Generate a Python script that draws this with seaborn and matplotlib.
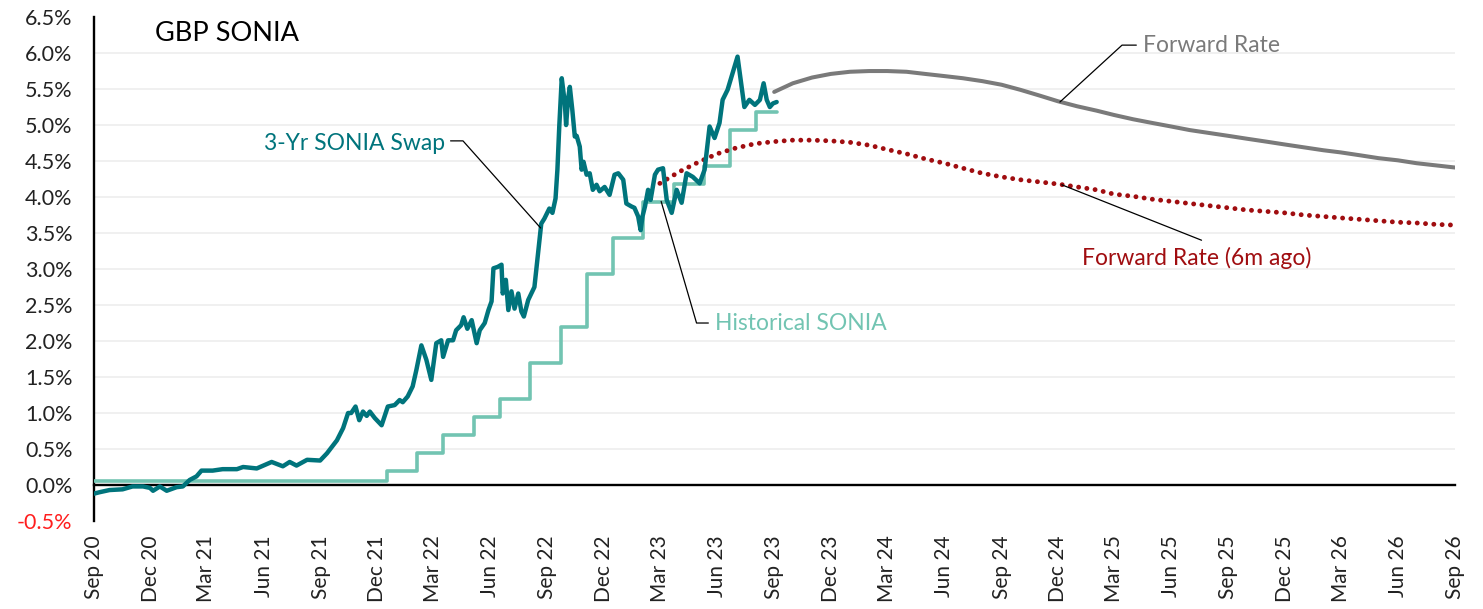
import numpy as np
import pandas as pd
import matplotlib
matplotlib.use("Agg")
import matplotlib.pyplot as plt
import matplotlib.dates as mdates
import seaborn as sns

# ---------------- data ----------------
swap_dates = [
    # Sep 2020 - Sep 2021
    "2020-09-01", "2020-09-10", "2020-09-26", "2020-10-17", "2020-11-02", "2020-11-19",
    "2020-11-30", "2020-12-05", "2020-12-16", "2020-12-27", "2021-01-12", "2021-01-22",
    "2021-02-02", "2021-02-13", "2021-02-21", "2021-03-11", "2021-03-27", "2021-04-19",
    "2021-04-29", "2021-05-21", "2021-06-14", "2021-07-02", "2021-07-13", "2021-07-24",
    "2021-08-10", "2021-08-31", "2021-09-11",
    # Sep 2021 - Aug 2022
    "2021-09-27", "2021-10-07", "2021-10-15", "2021-10-20", "2021-10-27", "2021-11-02",
    "2021-11-08", "2021-11-14", "2021-11-19", "2021-11-27", "2021-12-08", "2021-12-18",
    "2021-12-29", "2022-01-06", "2022-01-11", "2022-01-19", "2022-01-27", "2022-02-02",
    "2022-02-10", "2022-02-18", "2022-02-26", "2022-03-06", "2022-03-14", "2022-03-17",
    "2022-03-25", "2022-04-02", "2022-04-07", "2022-04-15", "2022-04-19", "2022-04-25",
    "2022-05-02", "2022-05-10", "2022-05-15", "2022-05-23", "2022-05-29", "2022-06-03",
    "2022-06-06", "2022-06-13", "2022-06-19", "2022-06-21", "2022-06-26", "2022-06-30",
    "2022-07-05", "2022-07-10", "2022-07-16", "2022-07-21", "2022-07-25", "2022-08-01",
    "2022-08-06", "2022-08-11", "2022-08-14", "2022-08-19",
    # Aug 2022 - Mar 2023
    "2022-08-22", "2022-08-27", "2022-09-04", "2022-09-09", "2022-09-14", "2022-09-17",
    "2022-09-20", "2022-09-24", "2022-09-29", "2022-10-01", "2022-10-04", "2022-10-07",
    "2022-10-11", "2022-10-15", "2022-10-18", "2022-10-23", "2022-10-26", "2022-10-29",
    "2022-11-03", "2022-11-08", "2022-11-13", "2022-11-19", "2022-11-24", "2022-12-02",
    "2022-12-10", "2022-12-18", "2022-12-24", "2023-01-01", "2023-01-06", "2023-01-14",
    "2023-01-19", "2023-01-25", "2023-01-29", "2023-02-01", "2023-02-05", "2023-02-10",
    "2023-02-14", "2023-02-21", "2023-02-26", "2023-03-06",
    # Mar 2023 - Sep 2023
    "2023-03-12", "2023-03-20", "2023-03-28", "2023-04-05", "2023-04-13", "2023-04-23",
    "2023-05-04", "2023-05-12", "2023-05-20", "2023-05-28", "2023-06-05", "2023-06-10",
    "2023-06-18", "2023-06-26", "2023-07-04", "2023-07-07", "2023-07-15", "2023-07-23",
    "2023-08-01", "2023-08-09", "2023-08-15", "2023-08-20", "2023-08-25", "2023-08-30",
    "2023-09-05",
]
swap_values = [
    -0.12, -0.10, -0.07, -0.06, -0.02, -0.02,
    -0.04, -0.08, -0.02, -0.08, -0.03, -0.02,
    0.07, 0.12, 0.20, 0.20, 0.22, 0.22,
    0.25, 0.23, 0.32, 0.26, 0.32, 0.27,
    0.35, 0.34, 0.44,
    0.62, 0.79, 1.00, 1.00, 1.09, 0.90,
    1.02, 0.96, 1.02, 0.93, 0.83, 1.09,
    1.11, 1.18, 1.15, 1.23, 1.37, 1.60,
    1.94, 1.74, 1.46, 1.97, 2.01, 1.78,
    2.01, 2.01, 2.15, 2.22, 2.33, 2.17,
    2.29, 1.97, 2.15, 2.25, 2.43, 2.55,
    3.01, 3.03, 3.06, 2.66, 2.85, 2.43,
    2.69, 2.45, 2.66, 2.41, 2.34, 2.57,
    2.66, 2.75, 2.99, 3.40,
    3.63, 3.70, 3.84, 3.78, 3.98, 4.38,
    4.98, 5.65, 5.30, 5.00, 5.35, 5.53,
    5.21, 4.84, 4.85, 4.70, 4.38, 4.49,
    4.31, 4.33, 4.10, 4.17, 4.08, 4.14,
    4.03, 4.31, 4.33, 4.24, 3.91, 3.87,
    3.85, 3.73, 3.54, 3.73, 3.87, 4.10,
    3.96, 4.31, 4.38, 4.40,
    3.96, 3.78, 4.10, 3.92, 4.33, 4.28,
    4.19, 4.38, 4.98, 4.82, 5.03, 5.35,
    5.49, 5.72, 5.95, 5.76, 5.25, 5.35,
    5.28, 5.35, 5.58, 5.35, 5.25, 5.30,
    5.32,
]

sonia_dates = [
    "2020-09-01", "2021-12-16", "2022-02-03", "2022-03-17", "2022-05-05", "2022-06-16",
    "2022-08-04", "2022-09-22", "2022-11-03", "2022-12-15", "2023-02-02", "2023-03-23",
    "2023-05-11", "2023-06-22", "2023-08-03", "2023-09-05",
]
sonia_values = [
    0.05, 0.19, 0.44, 0.69, 0.94, 1.19,
    1.69, 2.19, 2.93, 3.43, 3.93, 4.18,
    4.43, 4.93, 5.18, 5.18,
]

fwd_start, fwd_end = "2023-09-01", "2026-09-01"
fwd_values = [
    5.46, 5.58, 5.66, 5.71,
    5.74, 5.75, 5.75, 5.74, 5.71, 5.68, 5.65, 5.61, 5.56, 5.49, 5.41, 5.33,
    5.26, 5.20, 5.14, 5.08, 5.03, 4.98, 4.93, 4.89, 4.85, 4.81, 4.77, 4.73,
    4.69, 4.65, 4.62, 4.58, 4.54, 4.51, 4.47, 4.44, 4.41,
]

fwd6m_start, fwd6m_end = "2023-03-01", "2026-09-01"
fwd6m_values = [
    4.19, 4.35, 4.48, 4.60, 4.68, 4.74, 4.77, 4.79, 4.79, 4.78,
    4.76, 4.72, 4.66, 4.60, 4.53, 4.47, 4.40, 4.33, 4.28, 4.24, 4.21, 4.18,
    4.14, 4.10, 4.04, 4.01, 3.97, 3.94, 3.91, 3.88, 3.85, 3.82, 3.80, 3.78,
    3.75, 3.73, 3.71, 3.69, 3.67, 3.65, 3.64, 3.62, 3.61,
]

y_ticks = [-0.5, 0.0, 0.5, 1.0, 1.5, 2.0, 2.5, 3.0, 3.5, 4.0, 4.5, 5.0, 5.5, 6.0, 6.5]

# ---------------- frames ----------------
swap_df = pd.DataFrame({"date": pd.to_datetime(swap_dates), "rate": swap_values})
sonia_df = pd.DataFrame({"date": pd.to_datetime(sonia_dates), "rate": sonia_values})
fwd_df = pd.DataFrame({"date": pd.date_range(fwd_start, fwd_end, freq="MS"), "rate": fwd_values})
fwd6m_df = pd.DataFrame({"date": pd.date_range(fwd6m_start, fwd6m_end, freq="MS"), "rate": fwd6m_values})

# ---------------- style ----------------
sns.set_theme(style="white")
plt.rcParams["font.family"] = ["Lato", "DejaVu Sans"]

C_SWAP = "#00747C"
C_SONIA = "#72C4B2"
C_FWD = "#7A7A7A"
C_FWD6 = "#A00D10"

fig = plt.figure(figsize=(14.83, 6.09), dpi=100)
ax = fig.add_axes([0.0634, 0.1445, 0.9177, 0.8275])

sns.lineplot(data=sonia_df, x="date", y="rate", ax=ax, color=C_SONIA, lw=2.6,
             drawstyle="steps-post", estimator=None, sort=False, zorder=3)
sns.lineplot(data=swap_df, x="date", y="rate", ax=ax, color=C_SWAP, lw=3.2,
             estimator=None, sort=False, zorder=4)
sns.lineplot(data=fwd_df, x="date", y="rate", ax=ax, color=C_FWD, lw=2.9,
             estimator=None, sort=False, zorder=3)
sns.lineplot(data=fwd6m_df, x="date", y="rate", ax=ax, color=C_FWD6, lw=3.5,
             estimator=None, sort=False, zorder=3,
             linestyle=(0, (0.01, 1.7)), dash_capstyle="round")

# ---------------- axes ----------------
ax.set_xlim(pd.Timestamp("2020-09-01"), pd.Timestamp("2026-09-01"))
ax.set_ylim(-0.5, 6.5)
ax.set_yticks(y_ticks)
ax.set_yticklabels([f"{v:.1f}%" for v in y_ticks])
ax.set_xlabel("")
ax.set_ylabel("")

ax.xaxis.set_major_locator(mdates.MonthLocator(bymonth=[3, 6, 9, 12]))
ax.xaxis.set_major_formatter(mdates.DateFormatter("%b %y"))

for s in ["top", "right"]:
    ax.spines[s].set_visible(False)
ax.spines["bottom"].set_position(("data", 0))
for s in ["bottom", "left"]:
    ax.spines[s].set_color("black")
    ax.spines[s].set_linewidth(1.7)
ax.spines["bottom"].set_zorder(2)

ax.tick_params(axis="x", direction="out", length=7, width=1.7, color="black",
               pad=29, labelsize=15, labelcolor="#222222", labelrotation=90)
ax.tick_params(axis="y", direction="inout", length=11, width=1.7, color="black",
               pad=10, labelsize=15.5, labelcolor="#222222")
ax.get_yticklabels()[0].set_color("#FF1E1E")

ax.yaxis.grid(True, color="#EDEDED", lw=1.2)
ax.set_axisbelow(True)
glines = ax.yaxis.get_gridlines()
glines[0].set_visible(False)
glines[-1].set_visible(False)

# ---------------- annotations ----------------
T = pd.Timestamp
ax.text(0.0448, 0.968, "GBP SONIA", transform=ax.transAxes, fontsize=19.5,
        color="black", ha="left", va="center")

ax.text(T("2022-03-20"), 4.75, "3-Yr SONIA Swap", fontsize=16.5, color=C_SWAP,
        ha="right", va="center")
ax.plot([T("2022-03-29"), T("2022-04-18"), T("2022-08-21")], [4.78, 4.78, 3.57],
        color="black", lw=0.9, zorder=5)

ax.text(T("2023-05-29"), 2.25, "Historical SONIA", fontsize=16.5, color=C_SONIA,
        ha="left", va="center")
ax.plot([T("2023-05-18"), T("2023-04-29"), T("2023-03-03")], [2.25, 2.25, 3.94],
        color="black", lw=0.9, zorder=5)

ax.text(T("2025-04-17"), 6.11, "Forward Rate", fontsize=16.5, color=C_FWD,
        ha="left", va="center")
ax.plot([T("2025-04-06"), T("2025-03-14"), T("2024-12-04")], [6.11, 6.11, 5.32],
        color="black", lw=0.9, zorder=5)

ax.text(T("2025-01-08"), 3.15, "Forward Rate (6m ago)", fontsize=16.5, color=C_FWD6,
        ha="left", va="center")
ax.plot([T("2025-07-20"), T("2024-12-07")], [3.40, 4.17],
        color="black", lw=0.9, zorder=5)

fig.savefig("out.png", dpi=100)
